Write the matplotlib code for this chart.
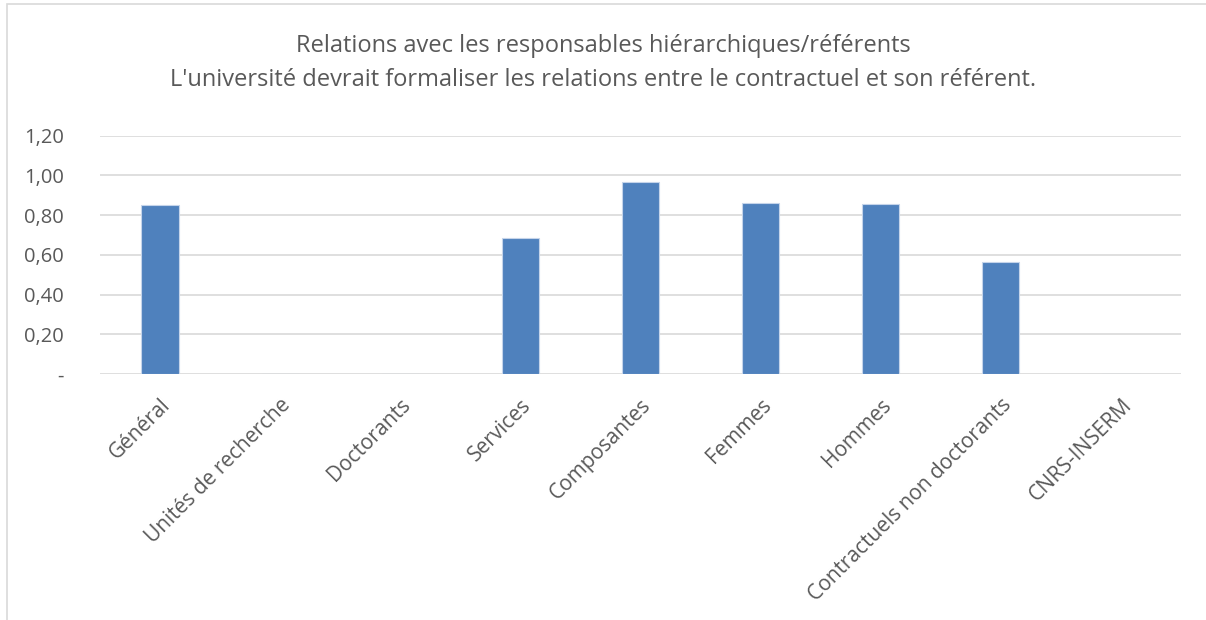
import matplotlib.pyplot as plt
from matplotlib.patches import Rectangle

categories = ['Général', 'Unités de recherche', 'Doctorants', 'Services', 'Composantes',
              'Femmes', 'Hommes', 'Contractuels non doctorants', 'CNRS-INSERM']
values = [0.851, 0, 0, 0.683, 0.965, 0.860, 0.855, 0.562, 0]
yticks = [0, 0.2, 0.4, 0.6, 0.8, 1.0, 1.2]
ytick_labels = ['-', '0,20', '0,40', '0,60', '0,80', '1,00', '1,20']
title = ("Relations avec les responsables hiérarchiques/référents\n"
         "L'université devrait formaliser les relations entre le contractuel et son référent.")

plt.rcParams['font.family'] = ['Open Sans', 'DejaVu Sans']
text_col = '#595959'

fig = plt.figure(figsize=(12.06, 6.2), dpi=100)
# cadre du graphique (coupé à droite et en bas)
fig.patches.append(Rectangle((7 / 1206, -0.1), 1.2, 1 - 4 / 620 + 0.1, transform=fig.transFigure,
                             fill=False, edgecolor='#d9d9d9', linewidth=1.2))

ax = fig.add_axes([100 / 1206, 1 - 374 / 620, 1081 / 1206, 238.3 / 620])
x = range(len(categories))
ax.bar(x, values, width=0.31, color='#4f81bd', edgecolor='#c5d4ea', linewidth=0.8, zorder=3)

ax.set_xlim(-0.5, len(categories) - 0.5)
ax.set_ylim(0, 1.2)
ax.set_yticks(yticks)
ax.set_yticklabels(ytick_labels, fontsize=14.5, color=text_col)
ax.set_xticks(list(x))
ax.set_xticklabels(categories, rotation=45, ha='right', rotation_mode='anchor',
                   fontsize=15, color=text_col)
ax.tick_params(axis='y', length=0, pad=26)
ax.tick_params(axis='x', length=0, pad=15)
ax.grid(axis='y', color='#d9d9d9', linewidth=1.2, zorder=0)
for s in ax.spines.values():
    s.set_visible(False)

fig.text(0.5, 1 - 63 / 620, title, ha='center', va='center', fontsize=17,
         color=text_col, linespacing=1.6)

fig.savefig('out.png', dpi=100, facecolor='white')
